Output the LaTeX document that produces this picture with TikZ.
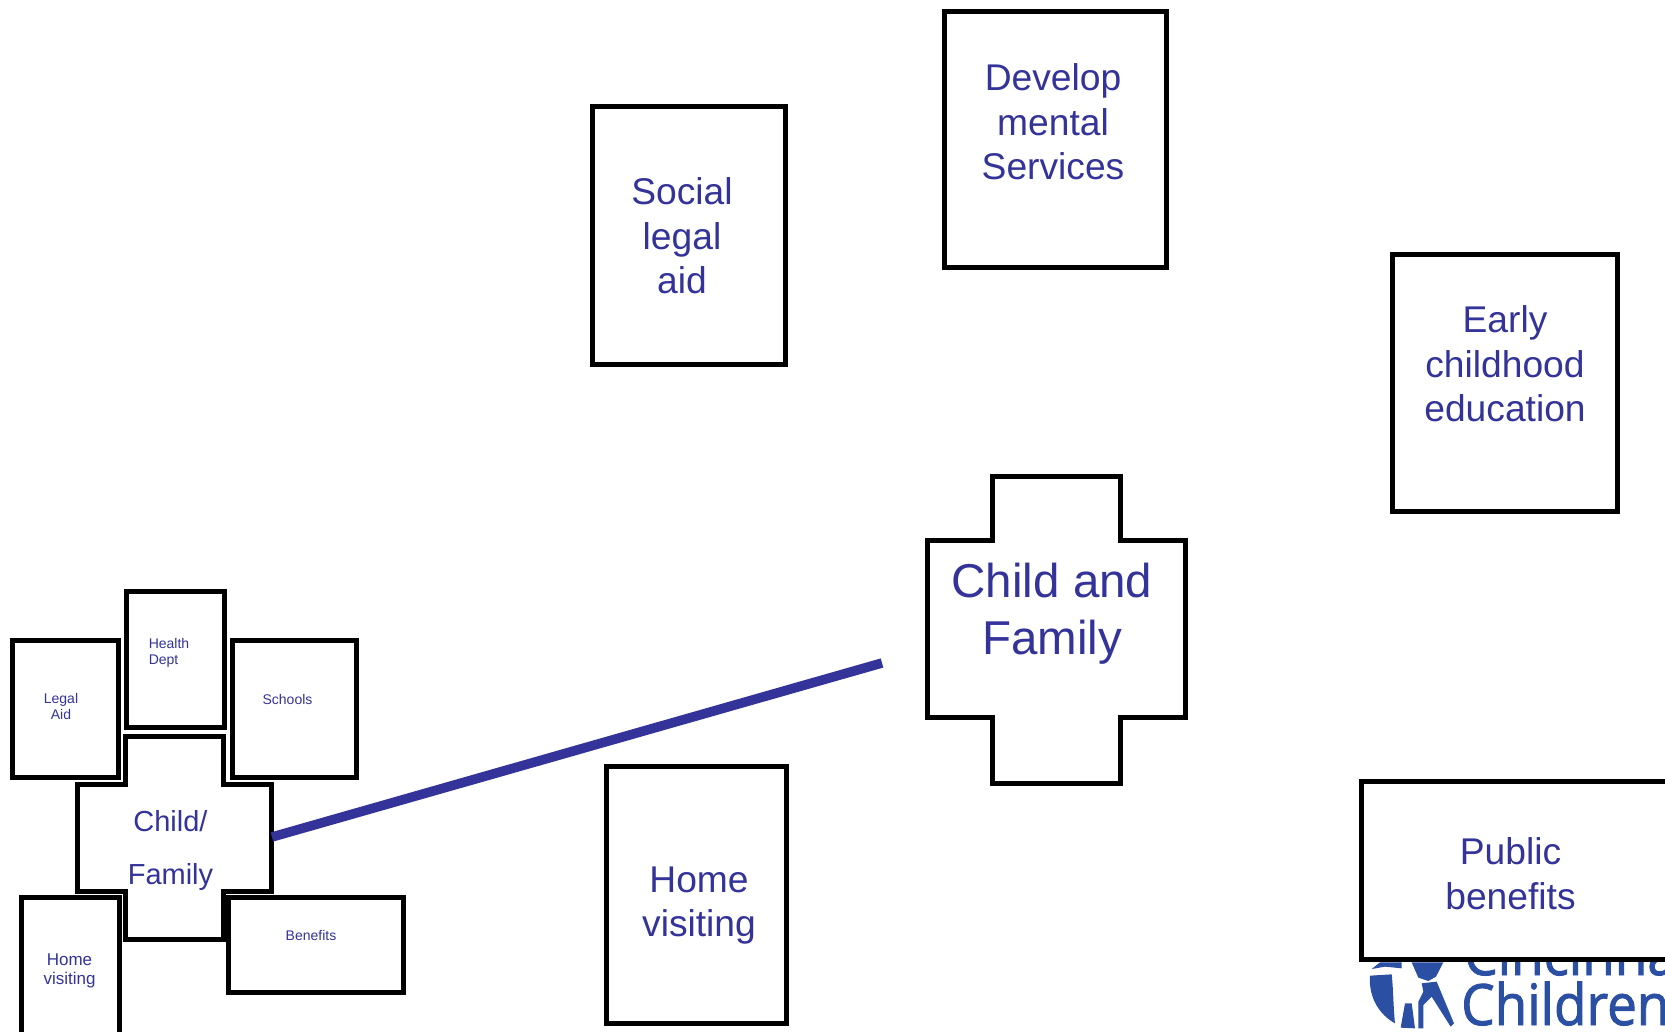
\documentclass[tikz,border=0pt]{standalone}
\usepackage{fontspec}
\setmainfont{Liberation Sans}
\newfontfamily\logofont{Open Sans}[FakeStretch=0.93,FakeBold=1.6]
\definecolor{inkblue}{HTML}{333399}
\definecolor{logoblue}{HTML}{2B4FA3}
\tikzset{
  boxn/.style={draw=black,line width=5pt,fill=white,inner sep=0pt,outer sep=0pt},
  crossn/.style={draw=black,line width=5pt,fill=white,miter limit=10},
  lbl/.style={text=inkblue,inner sep=0pt,align=center},
  biglbl/.style={lbl,font=\fontsize{37.2}{44.7}\selectfont},
  hugelbl/.style={lbl,font=\fontsize{47.5}{57}\selectfont},
  midlbl/.style={lbl,font=\fontsize{29}{53}\selectfont},
  homelbl/.style={lbl,font=\fontsize{17}{19.5}\selectfont},
  tinylbl/.style={lbl,font=\fontsize{14}{16}\selectfont},
  logotxt/.style={text=logoblue,inner sep=0pt,anchor=base west,font=\logofont\fontsize{57}{57}\selectfont},
  logoshape/.style={fill=logoblue,draw=none},
}
\begin{document}
\begin{tikzpicture}[x=1pt,y=-1pt]
\clip (0,0) rectangle (1665,1032);
\fill[white] (0,0) rectangle (1665,1032);
% logo
\node[logotxt] (logoA) at (1464,975) {Cincinnati};
\node[logotxt] (logoB) at (1461,1025) {Children};
\begin{scope}[shift={(1360,955)},x=0.3333pt,y=-0.3333pt]
\fill[logoshape] (35,42) -- (60,22) -- (125,22) -- (125,40) -- (75,35) -- cycle;
\fill[logoshape] (30,62) -- (95,58) .. controls (100,100) and (100,160) .. (105,205) .. controls (60,180) and (25,130) .. cycle;
\fill[logoshape] (155,22) -- (250,22) -- (228,65) -- (205,78) -- (175,68) -- cycle;
\fill[logoshape] (185,85) -- (230,80) -- (282,205) -- (272,215) -- (215,125) -- (190,150) -- (190,220) -- (175,220) -- (175,140) -- (190,110) -- cycle;
\fill[logoshape] (135,145) -- (155,145) -- (165,220) -- (122,218) -- cycle;
\end{scope}
% boxes
\node[boxn,minimum width=193.5pt,minimum height=257pt] (social) at (689,235.5) {};
\node[boxn,minimum width=222pt,minimum height=256pt] (develop) at (1055,140) {};
\node[boxn,minimum width=225pt,minimum height=256pt] (early) at (1504.5,383) {};
\node[boxn,minimum width=180pt,minimum height=257pt] (homebig) at (696,894.5) {};
\node[boxn,minimum width=340pt,minimum height=178pt] (public) at (1531,870) {};
\path[crossn] (992,476) -- (1120,476) -- (1120,540.5) -- (1185,540.5) -- (1185,717) -- (1120,717) -- (1120,783) -- (992,783) -- (992,717) -- (927,717) -- (927,540.5) -- (992,540.5) -- cycle;
\path[crossn] (125,736) -- (223,736) -- (223,784) -- (271,784) -- (271,891) -- (223,891) -- (223,939) -- (125,939) -- (125,891) -- (77,891) -- (77,784) -- (125,784) -- cycle;
\node[boxn,minimum width=98pt,minimum height=136pt] (health) at (175,659) {};
\node[boxn,minimum width=106pt,minimum height=137pt] (legal) at (65,708.5) {};
\node[boxn,minimum width=124pt,minimum height=137pt] (schools) at (294,708.5) {};
\node[boxn,minimum width=98pt,minimum height=140pt] (homesmall) at (70,967) {};
\node[boxn,minimum width=175pt,minimum height=95pt] (benefits) at (315.5,944.5) {};
% connector
\coordinate (smallEdge) at (272,837);
\coordinate (bigEnd) at (882,663);
\draw[inkblue,line width=9.5pt] (smallEdge) -- (bigEnd);
% labels
\node[biglbl] (tsocial) at (682,236) {Social\\legal\\aid};
\node[biglbl] (tdevelop) at (1053,122) {Develop\\mental\\Services};
\node[biglbl] (tearly) at (1505,364) {Early\\childhood\\education};
\node[biglbl] (thome) at (699,905.5) {Home\\visiting};
\node[biglbl] (tpublic) at (1510.5,874) {Public\\benefits};
\node[hugelbl] (tchild) at (1052,614) {Child and\\Family};
\node[midlbl] (tsmall) at (170.5,850) {Child/\\Family};
\node[tinylbl,align=left] (thealth) at (169,653) {Health\\Dept};
\node[tinylbl] (tlegal) at (61,706) {Legal\\Aid};
\node[tinylbl] (tschools) at (287.5,699) {Schools};
\node[tinylbl] (tbenefits) at (311,935) {Benefits};
\node[homelbl] (thomesmall) at (69.5,971) {Home\\visiting};
\end{tikzpicture}
\end{document}
